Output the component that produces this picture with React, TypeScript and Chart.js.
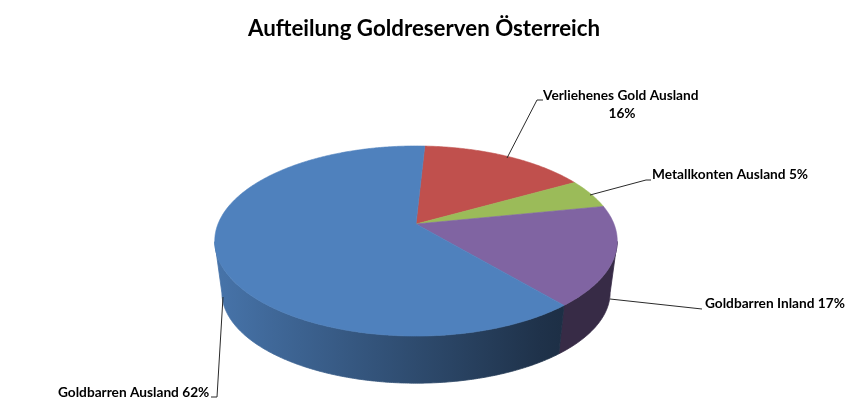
import React, { useEffect, useRef } from "react";
import { Chart, registerables } from "chart.js";

Chart.register(...registerables);

const titleText = "Aufteilung Goldreserven Österreich";
const categories = ["Verliehenes Gold Ausland", "Metallkonten Ausland", "Goldbarren Inland", "Goldbarren Ausland"];
const shares = [16, 5, 17, 62];
const sliceColors = ["#c0504d", "#9bbb59", "#8064a2", "#4f81bd"];
const labelFont = "bold 13.7px Lato";

// Perspective of the pie: unit circle -> screen
const K = -0.179;
const topFace = { x: 416, y: 224, a: 198, b: 92 };
const bottomFace = { x: 416, y: 276, a: 191, b: 88 };

// [x, shade] stops for the shaded rim
const rimStops = [[215, 0.9], [300, 0.76], [416, 0.58], [540, 0.39], [620, 0.3]];
const flatRimShade = 0.43;

type Callout = { lines: number[][]; text: [number, number, "left" | "center"]; second?: [number, number] };
const callouts: Callout[] = [
  { lines: [[507, 158], [537, 100], [543, 100]], text: [543, 100, "left"], second: [622, 118] },
  { lines: [[590, 195], [646, 180], [651, 180]], text: [652, 179, "left"] },
  { lines: [[610, 299], [702, 309]], text: [705, 308, "left"] },
  { lines: [[223, 297], [217, 397], [211, 397]], text: [58, 397, "left"] },
];

function project(f: typeof topFace, t: number) {
  const u = Math.cos(t), v = Math.sin(t), w = 1 + K * v;
  return { x: f.x + (f.a * u) / w, y: f.y + (f.b * v) / w, v };
}

function scaled(hex: string, s: number) {
  const n = parseInt(hex.slice(1), 16);
  const c = [(n >> 16) & 255, (n >> 8) & 255, n & 255].map((p) => Math.round(p * s));
  return `rgb(${c[0]},${c[1]},${c[2]})`;
}

const pie3d = {
  id: "pie3d",
  beforeDatasetDraw(chart: any, args: any) {
    const ctx: CanvasRenderingContext2D = chart.ctx;
    const arcs = args.meta.data;
    const step = Math.PI / 360;
    const widest = -K; // rim silhouette starts where the top face is widest
    ctx.save();
    ctx.lineWidth = 0.8;
    // rim
    arcs.forEach((arc: any, i: number) => {
      const color = arc.options.backgroundColor;
      const angles: number[] = [];
      for (let t = arc.startAngle; t < arc.endAngle; t += step) {
        if (Math.sin(t) >= widest) angles.push(t);
      }
      if (Math.sin(arc.endAngle) >= widest) angles.push(arc.endAngle);
      if (angles.length < 2) return;
      let fill: any = scaled(color, flatRimShade);
      if (i === 3) {
        const x0 = rimStops[0][0], x1 = rimStops[rimStops.length - 1][0];
        fill = ctx.createLinearGradient(x0, 0, x1, 0);
        rimStops.forEach(([x, s]) => fill.addColorStop((x - x0) / (x1 - x0), scaled(color, s)));
      }
      ctx.fillStyle = fill;
      ctx.strokeStyle = fill;
      ctx.beginPath();
      angles.forEach((t, j) => {
        const p = project(topFace, t);
        if (j) ctx.lineTo(p.x, p.y);
        else ctx.moveTo(p.x, p.y);
      });
      for (let j = angles.length - 1; j >= 0; j--) {
        const q = project(bottomFace, angles[j]);
        ctx.lineTo(q.x, q.y);
      }
      ctx.closePath();
      ctx.fill();
      ctx.stroke();
    });
    // top face
    ctx.lineWidth = 0.6;
    arcs.forEach((arc: any) => {
      const color = arc.options.backgroundColor;
      ctx.fillStyle = color;
      ctx.strokeStyle = color;
      ctx.beginPath();
      ctx.moveTo(topFace.x, topFace.y);
      for (let t = arc.startAngle; t < arc.endAngle; t += step) {
        const p = project(topFace, t);
        ctx.lineTo(p.x, p.y);
      }
      const e = project(topFace, arc.endAngle);
      ctx.lineTo(e.x, e.y);
      ctx.closePath();
      ctx.fill();
      ctx.stroke();
    });
    ctx.restore();
    return false;
  },
  afterDraw(chart: any) {
    const ctx: CanvasRenderingContext2D = chart.ctx;
    ctx.save();
    ctx.strokeStyle = "#2a2a2a";
    ctx.lineWidth = 1;
    ctx.fillStyle = "#000";
    ctx.font = labelFont;
    ctx.textBaseline = "alphabetic";
    callouts.forEach((c, i) => {
      ctx.beginPath();
      c.lines.forEach((p, j) => (j ? ctx.lineTo(p[0], p[1]) : ctx.moveTo(p[0], p[1])));
      ctx.stroke();
      const pct = `${shares[i]}%`;
      ctx.textAlign = c.text[2];
      if (c.second) {
        ctx.fillText(categories[i], c.text[0], c.text[1]);
        ctx.textAlign = "center";
        ctx.fillText(pct, c.second[0], c.second[1]);
      } else {
        ctx.fillText(`${categories[i]} ${pct}`, c.text[0], c.text[1]);
      }
    });
    ctx.restore();
  },
};

export default function App() {
  const ref = useRef<HTMLCanvasElement>(null);
  useEffect(() => {
    const chart = new Chart(ref.current!, {
      type: "pie",
      data: {
        labels: categories,
        datasets: [{ data: shares, backgroundColor: sliceColors, borderWidth: 0 }],
      },
      options: {
        animation: false,
        responsive: false,
        devicePixelRatio: 1,
        rotation: 3,
        layout: { padding: { right: 7 } },
        plugins: {
          legend: { display: false },
          tooltip: { enabled: false },
          title: {
            display: true,
            text: titleText,
            color: "#000",
            font: { family: "Lato", weight: "bold", size: 22.3 },
            padding: { top: 15, bottom: 10 },
          },
        },
      },
      plugins: [pie3d],
    } as any);
    return () => chart.destroy();
  }, []);
  return (
    <canvas
      ref={ref}
      width={855}
      height={417}
      style={{ position: "fixed", left: 0, top: 0, width: 855, height: 417, background: "#fff" }}
    />
  );
}
